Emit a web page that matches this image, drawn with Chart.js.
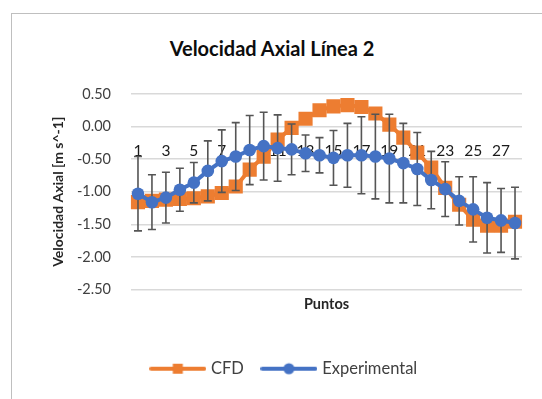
<!DOCTYPE html>
<html>
<head>
<meta charset="utf-8">
<script src="https://cdn.jsdelivr.net/npm/chart.js@4"></script>
<style>
  html, body { margin: 0; padding: 0; background: #fff; overflow: hidden; }
  #wrap { position: relative; width: 542px; height: 399px; overflow: hidden; }
  #frame { position: absolute; left: 11px; top: 13px; width: 600px; height: 500px; border: 1px solid #bfbfbf; }
  #title { position: absolute; left: 0; width: 544px; top: 36px; text-align: center;
           font: bold 20px Lato, sans-serif; color: #0d0d0d; }
  canvas { position: absolute; left: 0; top: 0; }
</style>
</head>
<body>
<div id="wrap">
  <div id="frame"></div>
  <div id="title">Velocidad Axial Línea 2</div>
  <canvas id="chart" width="542" height="399"></canvas>
</div>
<script>
const puntos = ["1", "2", "3", "4", "5", "6", "7", "8", "9", "10", "11", "12", "13", "14",
                "15", "16", "17", "18", "19", "20", "21", "22", "23", "24", "25", "26", "27", "28"];

const cfd = [-1.16, -1.14, -1.12, -1.11, -1.10, -1.07, -1.02, -0.92, -0.66, -0.46, -0.20, -0.02, 0.12, 0.25,
             0.31, 0.33, 0.30, 0.20, 0.03, -0.17, -0.40, -0.63, -0.94, -1.20, -1.43, -1.52, -1.52, -1.46];

const experimental = [-1.03, -1.16, -1.09, -0.97, -0.86, -0.68, -0.53, -0.46, -0.36, -0.30, -0.33, -0.35, -0.41, -0.44,
                      -0.48, -0.44, -0.44, -0.46, -0.49, -0.56, -0.65, -0.82, -0.96, -1.14, -1.27, -1.40, -1.44, -1.48];

// +/- error of each experimental point
const expError = [0.57, 0.42, 0.39, 0.33, 0.31, 0.46, 0.48, 0.52, 0.53, 0.52, 0.51, 0.39, 0.28, 0.27,
                  0.42, 0.49, 0.59, 0.65, 0.68, 0.61, 0.56, 0.44, 0.42, 0.37, 0.50, 0.54, 0.49, 0.55];

const ORANGE = "#ED7D31";
const BLUE = "#4472C4";
const FONT = "Lato, sans-serif";

// legend swatch: line with the marker in the middle
function legendIcon(color, shape) {
  const c = document.createElement("canvas");
  c.width = 57; c.height = 14;
  const g = c.getContext("2d");
  g.strokeStyle = color; g.lineWidth = 4; g.lineCap = "round";
  g.beginPath(); g.moveTo(2, 7); g.lineTo(55, 7); g.stroke();
  g.fillStyle = color;
  if (shape === "rect") g.fillRect(23.5, 2, 10, 10);
  else { g.beginPath(); g.arc(28.5, 7, 5.5, 0, Math.PI * 2); g.fill(); }
  return c;
}
const icons = [legendIcon(ORANGE, "rect"), legendIcon(BLUE, "circle")];

// vertical error bars, painted after CFD and under the experimental markers
const errorBars = {
  id: "errorBars",
  beforeDatasetDraw(chart, args) {
    if (args.index !== 1) return;
    const { ctx } = chart;
    const xs = chart.scales.x, ys = chart.scales.y;
    ctx.save();
    ctx.strokeStyle = "#555555";
    ctx.lineWidth = 1.6;
    experimental.forEach((v, i) => {
      const px = xs.getPixelForValue(i);
      const top = ys.getPixelForValue(v + expError[i]);
      const bot = ys.getPixelForValue(v - expError[i]);
      ctx.beginPath();
      ctx.moveTo(px, top); ctx.lineTo(px, bot);
      ctx.moveTo(px - 4, top); ctx.lineTo(px + 4, top);
      ctx.moveTo(px - 4, bot); ctx.lineTo(px + 4, bot);
      ctx.stroke();
    });
    ctx.restore();
  }
};

new Chart(document.getElementById("chart"), {
  type: "line",
  data: {
    labels: puntos,
    datasets: [
      {
        label: "CFD", data: cfd, order: 2,
        borderColor: ORANGE, backgroundColor: ORANGE, borderWidth: 4,
        pointStyle: "rect", pointRadius: 10, pointBorderWidth: 0,
      },
      {
        label: "Experimental", data: experimental, order: 1,
        borderColor: BLUE, backgroundColor: BLUE, borderWidth: 4,
        pointStyle: "circle", pointRadius: 6.3, pointBorderWidth: 0,
      },
    ],
  },
  options: {
    responsive: false,
    animation: false,
    devicePixelRatio: 1,
    layout: { padding: { left: 48, right: 20, top: 94, bottom: 12 } },
    plugins: {
      tooltip: { enabled: false },
      legend: {
        position: "bottom",
        labels: {
          usePointStyle: true,
          pointStyleWidth: 50,
          padding: 20,
          color: "#404040",
          font: { family: FONT, size: 16.5 },
          generateLabels: (chart) => chart.data.datasets.map((ds, i) => ({
            text: ds.label, pointStyle: icons[i], datasetIndex: i,
            fillStyle: "transparent", strokeStyle: "transparent", lineWidth: 0, fontColor: "#404040",
          })),
        },
      },
    },
    scales: {
      x: {
        offset: true,
        grid: { display: false, drawTicks: false },
        border: { display: false },
        ticks: { display: false },
        title: { display: true, text: "Puntos", color: "#262626",
                 font: { family: FONT, size: 14.5, weight: "bold" }, padding: { top: 7, bottom: 27 } },
        afterFit: (s) => { s.height = 51; },
      },
      x2: {
        type: "category",
        labels: puntos,
        offset: true,
        position: { y: 0 },
        grid: { display: false, drawTicks: false },
        border: { display: false },
        ticks: {
          autoSkip: false, maxRotation: 0, padding: 15, color: "#1a1a1a",
          font: { family: FONT, size: 15.5 },
          callback: (v, i) => (i % 2 === 0 ? puntos[i] : ""),
        },
      },
      y: {
        min: -2.5, max: 0.5,
        grid: { color: "#d9d9d9", lineWidth: 1.5, drawTicks: false },
        border: { display: false },
        ticks: { stepSize: 0.5, padding: 20, color: "#404040", font: { family: FONT, size: 14.5 },
                 callback: (v) => v.toFixed(2) },
        title: { display: true, text: "Velocidad Axial [m s^-1]", color: "#262626",
                 font: { family: FONT, size: 14, weight: "bold" }, padding: { top: 2, bottom: 0 } },
        afterFit: (s) => { s.width = 83; },
      },
    },
  },
  plugins: [errorBars],
});
</script>
</body>
</html>
